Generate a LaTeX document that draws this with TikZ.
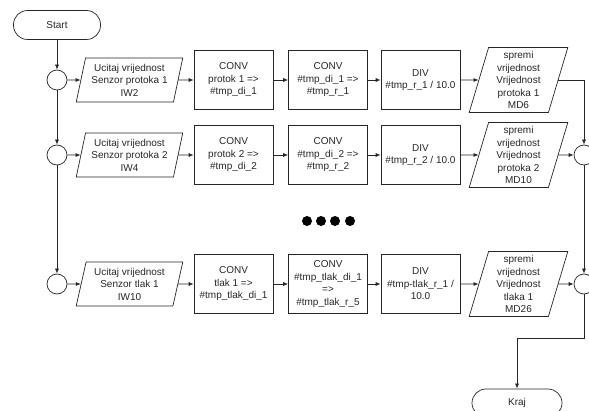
\documentclass[tikz,border=0pt]{standalone}
\usepackage{fontspec}
\setmainfont{Liberation Sans}
\usetikzlibrary{shapes.geometric,arrows.meta}
\begin{document}
\begin{tikzpicture}[x=1pt,y=-1pt,
  every node/.style={font=\fontsize{10}{12.5}\selectfont, align=center, inner sep=0pt, text=black!85},
  proc/.style={draw, minimum width=79pt, minimum height=59pt},
  io/.style={draw, trapezium, trapezium left angle=76, trapezium right angle=104, trapezium stretches=true, minimum width=107pt, minimum height=44pt},
  ioout/.style={io, minimum width=99pt, minimum height=65pt},
  term/.style={draw, rounded corners=14pt, minimum width=87pt, minimum height=29pt},
  conn/.style={draw, circle, minimum size=20pt},
  arr/.style={-{Latex[length=5pt,width=4pt]}},
  line width=0.7pt, draw=black!85]
\useasboundingbox (0,0) rectangle (589,411);

% left column
\node[term] (start) at (57,25) {Start};
\node[conn] (c1) at (57,80) {};
\node[conn] (c2) at (57,155) {};
\node[conn] (c3) at (57,284) {};

% row 1
\node[io] (in1) at (129.5,80) {Ucitaj vrijednost\\Senzor protoka 1\\IW2};
\node[proc] (a1) at (233.5,80) {CONV\\protok 1 =>\\\#tmp\_di\_1};
\node[proc] (b1) at (328,80) {CONV\\\#tmp\_di\_1 =>\\\#tmp\_r\_1};
\node[proc] (d1) at (420.5,80) {DIV\\\#tmp\_r\_1 / 10.0};
\node[ioout] (o1) at (518.5,80) {spremi\\vrijednost\\Vrijednost\\protoka 1\\MD6};

% row 2
\node[io] (in2) at (129.5,155) {Ucitaj vrijednost\\Senzor protoka 2\\IW4};
\node[proc] (a2) at (233.5,155) {CONV\\protok 2 =>\\\#tmp\_di\_2};
\node[proc] (b2) at (328,155) {CONV\\\#tmp\_di\_2 =>\\\#tmp\_r\_2};
\node[proc] (d2) at (420.5,155) {DIV\\\#tmp\_r\_2 / 10.0};
\node[ioout] (o2) at (518.5,155) {spremi\\vrijednost\\Vrijednost\\protoka 2\\MD10};

% row 3
\node[io] (in3) at (129.5,284) {Ucitaj vrijednost\\Senzor tlak 1\\IW10};
\node[proc] (a3) at (233.5,284) {CONV\\tlak 1 =>\\\#tmp\_tlak\_di\_1};
\node[proc] (b3) at (328,284) {CONV\\\#tmp\_tlak\_di\_1\\=>\\\#tmp\_tlak\_r\_5};
\node[proc] (d3) at (420.5,284) {DIV\\\#tmp-tlak\_r\_1 /\\10.0};
\node[ioout] (o3) at (518.5,284) {spremi\\vrijednost\\Vrijednost\\tlaka 1\\MD26};

% right column
\node[conn] (rc2) at (584,155) {};
\node[conn] (rc3) at (584,284) {};
\node[term, minimum width=90pt, minimum height=28pt] (kraj) at (517,403) {Kraj};
\coordinate (bend) at (584,338);

% dots
\foreach \x in {307,321,335,350} \fill[black] (\x,221) circle (5);

% connectors
\draw[arr] (start) -- (c1);
\draw[arr] (c1) -- (c2);
\draw[arr] (c2) -- (c3);
\foreach \r in {1,2,3} {
  \draw[arr] (c\r) -- (in\r);
  \draw[arr] (in\r) -- (a\r);
  \draw[arr] (a\r) -- (b\r);
  \draw[arr] (b\r) -- (d\r);
  \draw[arr] (d\r) -- (o\r);
}
\draw[arr] (o1.east) -| (rc2);
\draw[arr] (o2) -- (rc2);
\draw[arr] (rc2) -- (rc3);
\draw[arr] (o3) -- (rc3);
\draw[arr] (rc3) -- (bend) -| (kraj);
\end{tikzpicture}
\end{document}
